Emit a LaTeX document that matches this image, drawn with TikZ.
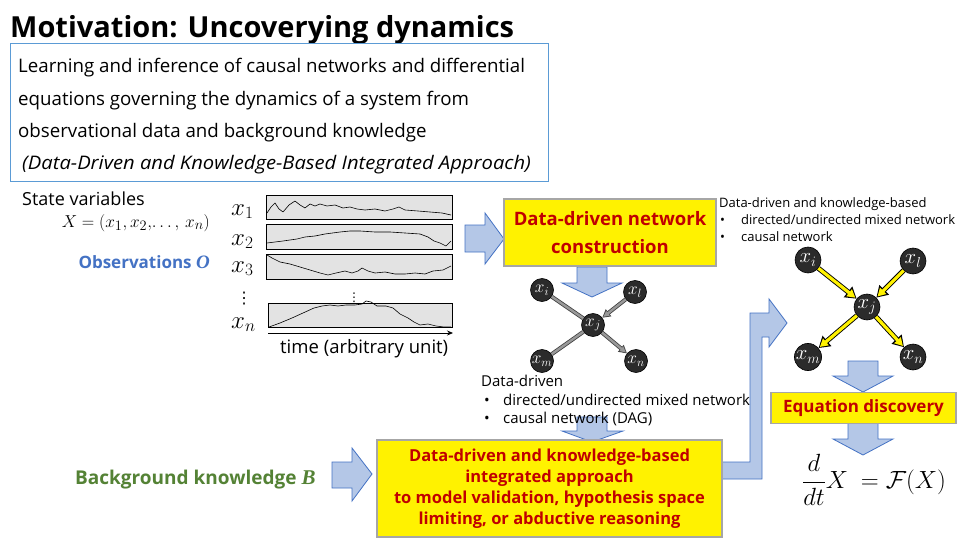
\documentclass[tikz,border=0pt]{standalone}
\usepackage{amsmath}
\usepackage{fontspec}
\setmainfont{Open Sans}
\newfontfamily\mathbi{Liberation Serif}
\newfontfamily\symfont{DejaVu Sans}
\usetikzlibrary{arrows.meta,calc}

\definecolor{boxblue}{HTML}{5B9BD5}
\definecolor{arrowfill}{HTML}{B4C7E7}
\definecolor{arrowline}{HTML}{4472C4}
\definecolor{obsblue}{HTML}{4472C4}
\definecolor{bkgreen}{HTML}{548235}
\definecolor{darkred}{HTML}{C00000}
\definecolor{plotgray}{HTML}{E3E3E3}
\definecolor{nodedark}{HTML}{2B2B2B}

\tikzset{
  fs/.style={font=\fontsize{#1}{#1}\selectfont},
  txt/.style={inner sep=0pt, anchor=base west},
  blockarrow/.style={fill=arrowfill, draw=arrowline, line width=0.8pt, line join=miter},
  ybox/.style={draw=black!35, line width=1.6pt, fill=yellow, text=darkred, align=center, inner sep=0pt},
  plotbox/.style={draw=black, line width=0.8pt, fill=plotgray, inner sep=0pt},
  curve/.style={black, line width=0.6pt, line join=round},
  netA/.style={circle, fill=nodedark, draw=black, line width=0.6pt, text=white, inner sep=0pt, minimum size=23pt, font=\fontsize{18}{18}\selectfont},
  netB/.style={circle, fill=nodedark, draw=black, line width=0.6pt, text=white, inner sep=0pt, minimum size=26pt, font=\fontsize{21}{21}\selectfont},
  grayout/.style={draw=black!75, line width=4pt},
  grayin/.style={draw=black!40, line width=2.4pt},
  grayouttip/.style={grayout, -{Triangle[length=8pt,width=8.5pt]}},
  grayintip/.style={grayin, shorten >=1.3pt, -{Triangle[length=6pt,width=5.5pt]}},
  yelout/.style={draw=black, line width=5pt, -{Triangle[length=11pt,width=13pt]}},
  yelin/.style={draw=yellow, line width=3.2pt, shorten >=1.6pt, -{Triangle[length=8pt,width=8.5pt]}},
}

\begin{document}
\begin{tikzpicture}[x=1pt,y=-1pt]
\useasboundingbox[fill=white] (0,0) rectangle (960,540);

% heading
\node[txt] (title) at (10,38) {\fontsize{29}{36}\selectfont\bfseries Motivation: Uncoverying dynamics};

% summary box
\node[draw=boxblue, line width=1.2pt, minimum width=538pt, minimum height=138pt, anchor=north west, inner sep=0pt] (intro) at (10,43) {};
\node[txt, fs=18.7] (introA) at (18,73) {Learning and inference of causal networks and differential};
\node[txt, fs=18.7] (introB) at (18,106) {equations governing the dynamics of a system from};
\node[txt, fs=18.7] (introC) at (18,138) {observational data and background knowledge};
\node[txt] (introD) at (22,170) {\fontsize{18.7}{21}\selectfont\itshape\addfontfeature{FakeStretch=1.08}(Data-Driven and Knowledge-Based Integrated Approach)};

% state variables and observations
\node[txt, fs=18] (state) at (22,205) {State variables};
\node[inner sep=0pt, anchor=base east, fs=19] (statevec) at (210,227) {$X=(x_1,x_2,\!\ldots,\,x_n)$};
\node[inner sep=0pt, anchor=base east, text=obsblue] (obs) at (210,268) {\fontsize{17}{20}\selectfont\bfseries Observations {\mathbi\bfseries\itshape\fontsize{19}{20}\selectfont O}};

% time series panels
\node[txt, fs=23] (lx1) at (231,215) {$x_1$};
\node[txt, fs=23] (lx2) at (231,245) {$x_2$};
\node[txt, fs=23] (lx3) at (231,272) {$x_3$};
\node[txt] (lvd) at (236,303) {\symfont\fontsize{16}{16}\selectfont ⋮};
\node[txt, fs=23] (lxn) at (231,328) {$x_n$};

\node[plotbox, minimum width=186pt, minimum height=24pt] (p1) at (359,207) {};
\node[plotbox, minimum width=186pt, minimum height=25pt] (p2) at (359,236.5) {};
\node[plotbox, minimum width=186pt, minimum height=25pt] (p3) at (359,266.5) {};
\node[plotbox, minimum width=184pt, minimum height=24pt] (pn) at (360,315) {};

\draw[curve] (267,213) -- (271,207) -- (275,203) -- (279,209) -- (283,212) -- (289,205) -- (295,201) -- (300,205) -- (305,208) -- (310,204) -- (315,206) -- (320,204) -- (327,206) -- (335,205) -- (343,208) -- (350,207) -- (357,209) -- (365,210) -- (375,209) -- (385,211) -- (393,209) -- (399,207) -- (405,210) -- (418,211) -- (430,212) -- (442,213) -- (451,215);
\draw[curve] (267,243) -- (275,242) -- (283,241) -- (290,240) -- (297,239) -- (305,237) -- (315,236) -- (325,234) -- (340,232) -- (350,231) -- (360,231) -- (375,232) -- (390,232) -- (405,233) -- (420,234) -- (428,237) -- (434,241) -- (440,243) -- (446,246) -- (451,241);
\draw[curve] (267,255) -- (272,258) -- (280,262) -- (290,264) -- (300,267) -- (310,270) -- (320,273) -- (328,275) -- (336,273) -- (345,271) -- (352,273) -- (358,271) -- (362,268) -- (368,271) -- (375,273) -- (385,272) -- (395,274) -- (405,274) -- (415,273) -- (425,274) -- (433,271) -- (443,270) -- (451,266);
\draw[curve] (269,327) -- (280,323) -- (292,318) -- (303,313) -- (314,308) -- (322,306) -- (330,305) -- (338,306) -- (346,305) -- (355,305) -- (362,304) -- (366,301) -- (371,302) -- (377,306) -- (386,306) -- (393,308) -- (400,314) -- (408,318) -- (414,322) -- (420,325) -- (428,324) -- (436,326) -- (444,327) -- (451,327);
\node[txt] (pvd) at (348,301) {\symfont\fontsize{12}{12}\selectfont ⋮};

\coordinate (tstart) at (268,333);
\coordinate (tend) at (453,333);
\draw[line width=0.8pt, -{Stealth[length=6pt,width=5pt]}] (tstart) -- (tend);
\node[txt, fs=18.5] (tlabel) at (280,353) {time (arbitrary unit)};

% block arrows
\draw[blockarrow] (465,225) -- (485,225) -- (485,213) -- (504,239) -- (485,264) -- (485,252) -- (465,252) -- cycle;
\draw[blockarrow] (577,267) -- (607,267) -- (607,283) -- (622,283) -- (592,297) -- (562,283) -- (577,283) -- cycle;
\draw[blockarrow] (577,417) -- (607,417) -- (607,431) -- (623,431) -- (592,442) -- (562,431) -- (577,431) -- cycle;
\draw[blockarrow] (848,361) -- (878,361) -- (878,376) -- (893,376) -- (863,392) -- (833,376) -- (848,376) -- cycle;
\draw[blockarrow] (848,423) -- (878,423) -- (878,439) -- (893,439) -- (863,455) -- (833,439) -- (848,439) -- cycle;
\draw[blockarrow] (332,462) -- (352,462) -- (352,448) -- (372,474) -- (352,501) -- (352,488) -- (332,488) -- cycle;
\draw[blockarrow] (718,462) -- (750,462) -- (750,313) -- (769,313) -- (769,299) -- (787,323) -- (769,347) -- (769,337) -- (762,337) -- (762,479) -- (718,479) -- cycle;

% data-driven step
\node[ybox, minimum width=212pt, minimum height=67pt, font=\fontsize{18.5}{28}\selectfont\bfseries] (ddnet) at (610,232.5) {Data-driven network\\construction};

% data-driven network
\node[netA] (ai) at (542,290) {$x_i$};
\node[netA] (al) at (635,292) {$x_l$};
\node[netA] (aj) at (593,325) {$x_j$};
\node[netA] (am) at (542,361) {$x_m$};
\node[netA] (an) at (636,361) {$x_n$};
\draw[grayout] (ai) -- (aj); \draw[grayin] (ai) -- (aj);
\draw[grayout] (am) -- (aj); \draw[grayin] (am) -- (aj);
\draw[grayouttip] (al) -- (aj); \draw[grayintip] (al) -- (aj);
\draw[grayouttip] (aj) -- (an); \draw[grayintip] (aj) -- (an);

\node[txt, fs=15] (ddtitle) at (481,386) {Data-driven};
\node[txt, fs=15] (ddb1) at (484,405) {\makebox[19pt][l]{•}directed/undirected mixed network};
\node[txt, fs=15] (ddb2) at (484,423) {\makebox[19pt][l]{•}causal network (DAG)};

% integrated network
\node[txt, fs=13] (kbtitle) at (719,207) {Data-driven and knowledge-based};
\node[txt, fs=13] (kbb1) at (720,224) {\makebox[21pt][l]{•}directed/undirected mixed network};
\node[txt, fs=13] (kbb2) at (720,241) {\makebox[21pt][l]{•}causal network};

\node[netB] (bi) at (808,260) {$x_i$};
\node[netB] (bl) at (913,261) {$x_l$};
\node[netB] (bj) at (867,307) {$x_j$};
\node[netB] (bm) at (808,357) {$x_m$};
\node[netB] (bn) at (913,357) {$x_n$};
\foreach \s/\t in {bi/bj, bl/bj, bj/bm, bj/bn}{
  \draw[yelout] (\s) -- (\t);
  \draw[yelin] (\s) -- (\t);
}

% equation discovery
\node[ybox, minimum width=185pt, minimum height=31pt, font=\fontsize{17}{20}\selectfont\bfseries] (eqdisc) at (863.5,408) {Equation discovery};
\node[inner sep=0pt, fs=23] (eqn) at (874,480) {$\dfrac{d}{dt}X\ =\mathcal{F}(X)$};

% background knowledge
\node[txt, text=bkgreen] (bk) at (75,484) {\fontsize{19}{22}\selectfont\bfseries Background knowledge {\mathbi\bfseries\itshape\fontsize{21}{22}\selectfont B}};

% integrated approach
\node[ybox, minimum width=345pt, minimum height=97pt, font=\fontsize{16.5}{21}\selectfont\bfseries] (integ) at (549.5,488.5) {Data-driven and knowledge-based\\integrated approach\\to model validation, hypothesis space\\limiting, or abductive reasoning};

\end{tikzpicture}
\end{document}
